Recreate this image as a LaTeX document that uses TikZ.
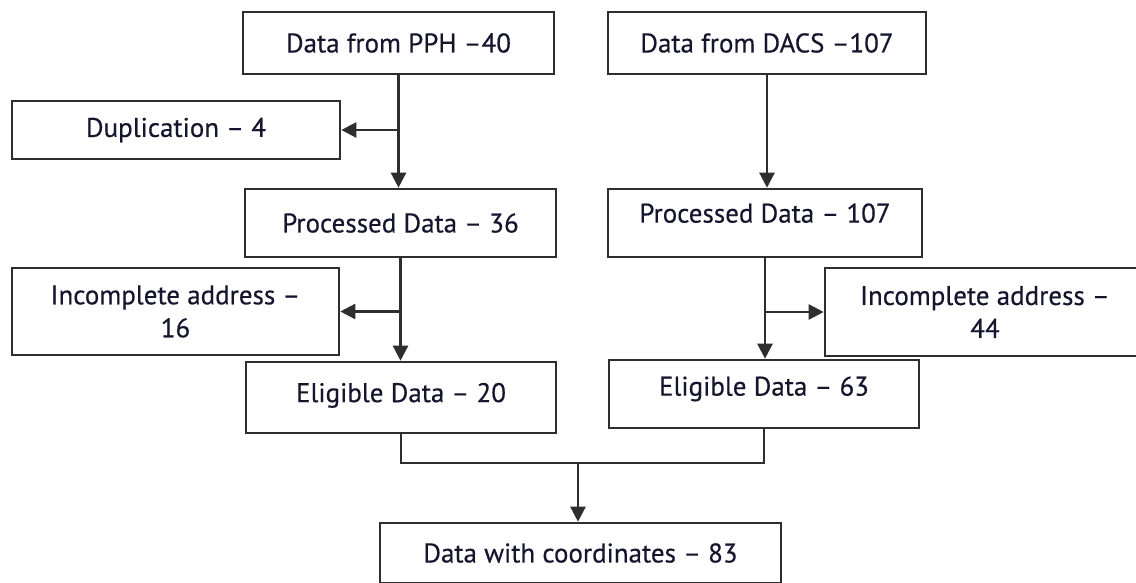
\documentclass[tikz,border=0pt]{standalone}
\usepackage{fontspec}
\setmainfont[FakeBold=0.4]{PT Sans}
\usetikzlibrary{arrows.meta}
\definecolor{edge}{HTML}{2E2E2E}
\definecolor{ink}{HTML}{15152E}
\tikzset{
  box/.style={draw=edge, line width=2.6pt, rectangle, inner sep=0pt, align=center,
    font=\fontsize{27}{33}\selectfont, text=ink},
  arr/.style={draw=edge, line width=2.4pt, -{Triangle[length=15pt,width=15pt]}},
  link/.style={draw=edge, line width=2.4pt},
}
\begin{document}
\begin{tikzpicture}[x=1pt,y=-1pt]
\useasboundingbox (0,0) rectangle (1136,583);
\node[box, minimum width=311pt, minimum height=62pt] (pph) at (398.5,43) {Data from PPH –40};
\node[box, minimum width=318pt, minimum height=62pt] (dacs) at (767,43) {Data from DACS –107};
\node[box, minimum width=328pt, minimum height=58pt] (dup) at (176,130) {Duplication – 4};
\node[box, minimum width=311pt, minimum height=68pt] (proc1) at (400.5,223) {Processed Data – 36};
\node[box, minimum width=314pt, minimum height=68pt] (proc2) at (765,223) {\raisebox{20pt}{Processed Data – 107}};
\node[box, minimum width=327pt, minimum height=87pt] (inc1) at (175.5,311.5) {Incomplete address –\\16};
\node[box, minimum width=320pt, minimum height=88pt] (inc2) at (985,312) {Incomplete address –\\44};
\node[box, minimum width=310pt, minimum height=71pt] (elig1) at (401,397.5) {\raisebox{10pt}{Eligible Data – 20}};
\node[box, minimum width=310pt, minimum height=68pt] (elig2) at (764,394) {\raisebox{16pt}{Eligible Data – 63}};
\node[box, minimum width=401pt, minimum height=60pt] (coord) at (580.5,553) {Data with coordinates – 83};
\coordinate (j) at (578,463);

\draw[arr] (pph.south) -- (pph.south |- proc1.north);
\draw[arr] (pph.south |- dup.east) -- (dup.east);
\draw[arr] (dacs.south) -- (dacs.south |- proc2.north);
\draw[arr] (proc1.south) -- (proc1.south |- elig1.north);
\draw[arr] (proc1.south |- inc1.east) -- (inc1.east);
\draw[arr] (proc2.south) -- (proc2.south |- elig2.north);
\draw[arr] (proc2.south |- inc2.west) -- (inc2.west);
\draw[link] (elig1.south) |- (j) -| (elig2.south);
\draw[arr] (j) -- (j |- coord.north);
\end{tikzpicture}
\end{document}
